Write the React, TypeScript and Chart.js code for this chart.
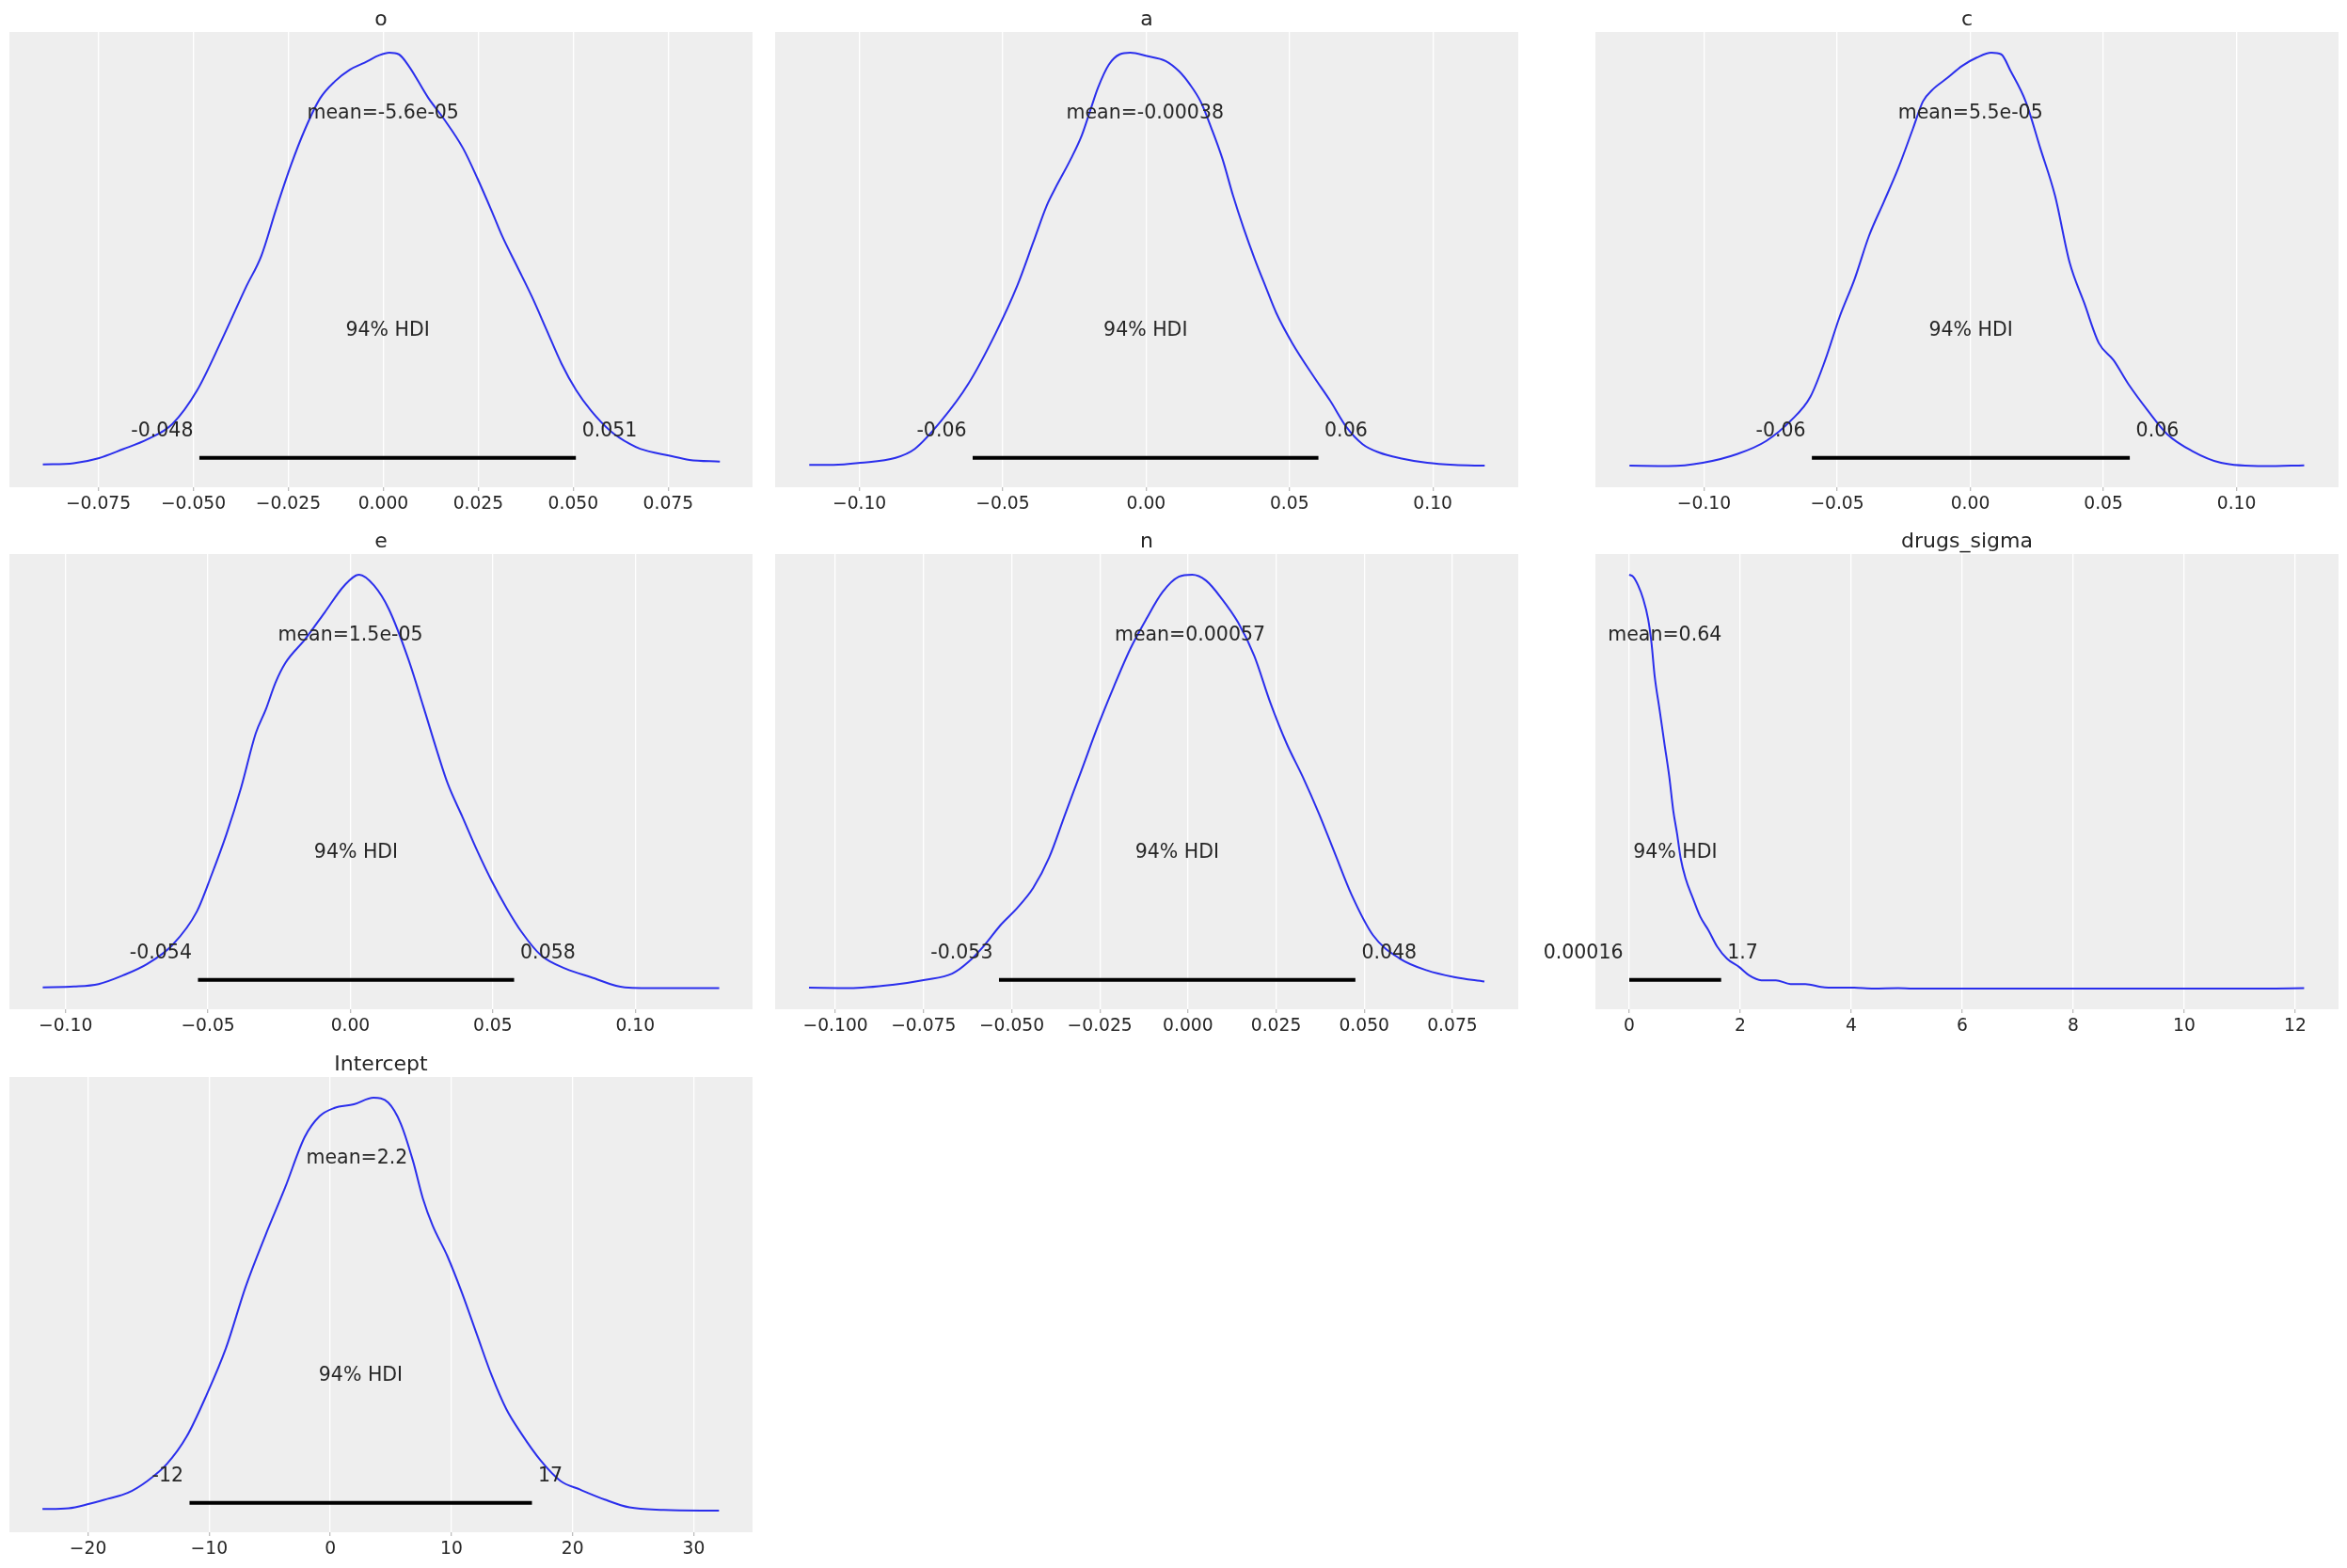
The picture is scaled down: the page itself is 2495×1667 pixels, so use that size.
import React, { useEffect, useRef } from "react";
import { Chart, registerables } from "chart.js";

Chart.register(...registerables);

// ---------------- data ----------------
const titles = ["o", "a", "c", "e", "n", "drugs_sigma", "Intercept"];

const oX = [-0.0896, -0.0815, -0.075, -0.0685, -0.062, -0.0555, -0.049, -0.0425, -0.036, -0.0321, -0.0282, -0.0243, -0.0205, -0.0166, -0.0127, -0.0088, -0.0049, -0.001, 0.0016, 0.0041, 0.0067, 0.0119, 0.0158, 0.021, 0.0248, 0.0287, 0.0313, 0.0352, 0.0391, 0.043, 0.0469, 0.0508, 0.0547, 0.0598, 0.065, 0.0676, 0.0754, 0.0806, 0.0886];
const oY = [0.005, 0.008, 0.02, 0.042, 0.066, 0.103, 0.184, 0.306, 0.436, 0.509, 0.622, 0.728, 0.817, 0.89, 0.931, 0.959, 0.976, 0.994, 1.0, 0.996, 0.968, 0.89, 0.842, 0.769, 0.696, 0.614, 0.557, 0.484, 0.411, 0.33, 0.249, 0.184, 0.135, 0.086, 0.054, 0.043, 0.026, 0.016, 0.012];

const aX = [-0.1175, -0.109, -0.0996, -0.0874, -0.0808, -0.0714, -0.062, -0.0525, -0.045, -0.0394, -0.0347, -0.0318, -0.0262, -0.0224, -0.0196, -0.0168, -0.013, -0.0092, -0.0055, 0.0002, 0.0068, 0.0115, 0.0153, 0.019, 0.0228, 0.0266, 0.0303, 0.0341, 0.0379, 0.0416, 0.0454, 0.051, 0.0586, 0.0642, 0.0699, 0.0755, 0.0812, 0.0887, 0.0981, 0.1075, 0.1181];
const aY = [0.004, 0.004, 0.009, 0.021, 0.042, 0.111, 0.2, 0.322, 0.436, 0.541, 0.63, 0.671, 0.744, 0.801, 0.858, 0.915, 0.971, 0.996, 1.0, 0.992, 0.98, 0.955, 0.923, 0.882, 0.817, 0.744, 0.655, 0.574, 0.501, 0.436, 0.371, 0.298, 0.216, 0.159, 0.095, 0.054, 0.034, 0.02, 0.009, 0.004, 0.002];

const cX = [-0.128, -0.1133, -0.1005, -0.0876, -0.0766, -0.0674, -0.0601, -0.0545, -0.049, -0.0435, -0.038, -0.0325, -0.0271, -0.0215, -0.0178, -0.0141, -0.0086, -0.0031, 0.0024, 0.0079, 0.0116, 0.0152, 0.0208, 0.0263, 0.0318, 0.0373, 0.0428, 0.0483, 0.0538, 0.0593, 0.0667, 0.074, 0.0832, 0.0942, 0.1107, 0.1254];
const cY = [0.002, 0.001, 0.009, 0.03, 0.062, 0.111, 0.168, 0.257, 0.363, 0.452, 0.558, 0.639, 0.72, 0.817, 0.882, 0.911, 0.939, 0.968, 0.988, 1.0, 0.996, 0.955, 0.882, 0.769, 0.655, 0.493, 0.395, 0.298, 0.257, 0.2, 0.135, 0.078, 0.038, 0.009, 0.001, 0.003];

const eX = [-0.108, -0.097, -0.0884, -0.0798, -0.0712, -0.0625, -0.0539, -0.0487, -0.0435, -0.0383, -0.0332, -0.0297, -0.0263, -0.0228, -0.0159, -0.009, -0.0021, 0.0031, 0.0083, 0.0135, 0.0204, 0.0256, 0.0307, 0.0342, 0.0394, 0.0446, 0.0497, 0.0549, 0.0601, 0.067, 0.0756, 0.0843, 0.0964, 0.1102, 0.1295];
const eY = [0.003, 0.005, 0.011, 0.032, 0.06, 0.105, 0.186, 0.275, 0.373, 0.487, 0.617, 0.674, 0.739, 0.787, 0.844, 0.909, 0.974, 1.0, 0.974, 0.917, 0.795, 0.682, 0.568, 0.495, 0.414, 0.332, 0.259, 0.194, 0.137, 0.08, 0.048, 0.028, 0.003, 0.001, 0.001];

const nX = [-0.1075, -0.096, -0.0838, -0.0746, -0.0669, -0.0623, -0.0577, -0.0531, -0.0485, -0.0439, -0.0394, -0.0348, -0.0302, -0.0256, -0.021, -0.0164, -0.0118, -0.0072, -0.0026, 0.0012, 0.0051, 0.0096, 0.0142, 0.0188, 0.0234, 0.028, 0.0326, 0.0372, 0.0418, 0.0464, 0.0525, 0.0602, 0.0678, 0.0755, 0.0841];
const nY = [0.002, 0.001, 0.009, 0.021, 0.036, 0.064, 0.105, 0.154, 0.194, 0.243, 0.316, 0.422, 0.527, 0.633, 0.73, 0.82, 0.893, 0.958, 0.995, 1.0, 0.986, 0.942, 0.885, 0.804, 0.69, 0.592, 0.511, 0.422, 0.324, 0.227, 0.129, 0.072, 0.044, 0.028, 0.017];

const sX = [0.0002, 0.07, 0.16, 0.25, 0.34, 0.4, 0.458, 0.546, 0.634, 0.722, 0.793, 0.863, 0.925, 1.013, 1.145, 1.278, 1.427, 1.586, 1.762, 1.982, 2.159, 2.379, 2.643, 2.907, 3.172, 3.524, 4.053, 4.405, 4.846, 5.11, 6.17, 7.93, 9.69, 11.45, 12.16];
const sY = [1.0, 0.995, 0.974, 0.942, 0.893, 0.836, 0.755, 0.674, 0.592, 0.511, 0.43, 0.373, 0.316, 0.267, 0.219, 0.174, 0.141, 0.101, 0.072, 0.052, 0.032, 0.02, 0.02, 0.011, 0.011, 0.003, 0.002, 0.0, 0.001, 0.0, 0.0, 0.0, 0.0, 0.0, 0.001];

const iX = [-23.76, -21.6, -19.98, -18.36, -16.73, -15.1, -13.49, -11.86, -10.24, -8.61, -6.99, -5.36, -3.74, -2.11, -0.89, 0.32, 1.95, 3.57, 4.79, 5.81, 6.82, 7.64, 8.45, 9.67, 10.89, 12.1, 13.32, 14.54, 15.76, 17.38, 19.01, 20.63, 22.66, 24.7, 27.54, 32.09];
const iY = [0.006, 0.008, 0.018, 0.031, 0.045, 0.074, 0.115, 0.181, 0.28, 0.395, 0.543, 0.667, 0.782, 0.905, 0.955, 0.975, 0.984, 1.0, 0.988, 0.938, 0.848, 0.757, 0.691, 0.617, 0.527, 0.428, 0.329, 0.247, 0.189, 0.123, 0.074, 0.053, 0.029, 0.01, 0.004, 0.002];

const xsAll = [oX, aX, cX, eX, nX, sX, iX];
const ysAll = [oY, aY, cY, eY, nY, sY, iY];

const xMins = [-0.0984, -0.1294, -0.1408, -0.1197, -0.1171, -0.61, -26.49];
const xMaxs = [0.0972, 0.1298, 0.1383, 0.1412, 0.0937, 12.78, 34.86];

const ticks3 = [-0.075, -0.05, -0.025, 0, 0.025, 0.05, 0.075];
const ticks3Labels = ["\u22120.075", "\u22120.050", "\u22120.025", "0.000", "0.025", "0.050", "0.075"];
const ticks2 = [-0.1, -0.05, 0, 0.05, 0.1];
const ticks2Labels = ["\u22120.10", "\u22120.05", "0.00", "0.05", "0.10"];
const ticksN = [-0.1, -0.075, -0.05, -0.025, 0, 0.025, 0.05, 0.075];
const ticksNLabels = ["\u22120.100", "\u22120.075", "\u22120.050", "\u22120.025", "0.000", "0.025", "0.050", "0.075"];
const ticksS = [0, 2, 4, 6, 8, 10, 12];
const ticksSLabels = ["0", "2", "4", "6", "8", "10", "12"];
const ticksI = [-20, -10, 0, 10, 20, 30];
const ticksILabels = ["\u221220", "\u221210", "0", "10", "20", "30"];

const tickValuesAll = [ticks3, ticks2, ticks2, ticks2, ticksN, ticksS, ticksI];
const tickLabelsAll = [ticks3Labels, ticks2Labels, ticks2Labels, ticks2Labels, ticksNLabels, ticksSLabels, ticksILabels];

const hdiLow = [-0.0484, -0.0605, -0.0595, -0.0535, -0.0536, 0.00016, -11.62];
const hdiHigh = [0.0507, 0.0601, 0.0599, 0.0575, 0.0475, 1.656, 16.65];
const hdiLowLabels = ["-0.048", "-0.06", "-0.06", "-0.054", "-0.053", "0.00016", "-12"];
const hdiHighLabels = ["0.051", "0.06", "0.06", "0.058", "0.048", "1.7", "17"];
const means = [-0.000056, -0.00038, 0.000055, 0.000015, 0.00057, 0.64, 2.2];
const meanLabels = ["mean=-5.6e-05", "mean=-0.00038", "mean=5.5e-05", "mean=1.5e-05", "mean=0.00057", "mean=0.64", "mean=2.2"];

// ---------------- layout ----------------
const COL_LEFT = [10, 824, 1696];
const ROW_TOP = [34, 589, 1145];
const PANEL_W = 790;
const PANEL_H = 484;
const PAD_L = 70;
const PAD_R = 10;
const PAD_T = 40;
const PAD_B = 45;
const FONT = '"DejaVu Sans", "Liberation Sans", sans-serif';
const TEXT = "#262626";

function Panel({ idx }: { idx: number }) {
  const ref = useRef<HTMLCanvasElement | null>(null);
  const col = idx % 3;
  const row = Math.floor(idx / 3);
  const left = COL_LEFT[col] - PAD_L;
  const top = ROW_TOP[row] - PAD_T;
  const W = PANEL_W + PAD_L + PAD_R;
  const H = PANEL_H + PAD_T + PAD_B;

  useEffect(() => {
    if (!ref.current) return;
    const xs = xsAll[idx];
    const ys = ysAll[idx];
    const lo = hdiLow[idx];
    const hi = hdiHigh[idx];
    const tickVals = tickValuesAll[idx];
    const tickLabs = tickLabelsAll[idx];

    const plugin = {
      id: "panelDecor" + idx,
      beforeDraw(chart: any) {
        const { ctx, chartArea } = chart;
        ctx.save();
        ctx.fillStyle = "#eeeeee";
        ctx.fillRect(chartArea.left, chartArea.top, chartArea.right - chartArea.left, chartArea.bottom - chartArea.top);
        ctx.restore();
      },
      afterDatasetsDraw(chart: any) {
        const { ctx, chartArea, scales } = chart;
        const x = scales.x;
        const y = scales.y;
        ctx.save();
        ctx.fillStyle = TEXT;
        ctx.textBaseline = "alphabetic";
        ctx.font = `20.5px ${FONT}`;
        ctx.textAlign = "center";
        ctx.fillText(meanLabels[idx], x.getPixelForValue(means[idx]), y.getPixelForValue(0.84));
        ctx.fillText("94% HDI", x.getPixelForValue((lo + hi) / 2), y.getPixelForValue(0.315));
        ctx.textAlign = "right";
        ctx.fillText(hdiLowLabels[idx] + " ", x.getPixelForValue(lo), y.getPixelForValue(0.0735));
        ctx.textAlign = "left";
        ctx.fillText(" " + hdiHighLabels[idx], x.getPixelForValue(hi), y.getPixelForValue(0.0735));
        ctx.font = `22px ${FONT}`;
        ctx.textAlign = "center";
        ctx.fillText(titles[idx], (chartArea.left + chartArea.right) / 2, chartArea.top - 7.5);
        ctx.restore();
      },
    };

    const chart = new Chart(ref.current, {
      type: "line",
      data: {
        datasets: [
          {
            data: xs.map((v, i) => ({ x: v, y: ys[i] })),
            borderColor: "#2a2eec",
            borderWidth: 2,
            pointRadius: 0,
            cubicInterpolationMode: "monotone",
            fill: false,
            order: 1,
          },
          {
            data: [
              { x: lo, y: 0.021 },
              { x: hi, y: 0.021 },
            ],
            borderColor: "#000000",
            borderWidth: 4,
            borderCapStyle: "butt",
            pointRadius: 0,
            fill: false,
            order: 2,
          },
        ],
      },
      options: {
        responsive: false,
        maintainAspectRatio: false,
        animation: false,
        devicePixelRatio: 1,
        layout: { padding: { left: PAD_L, right: PAD_R, top: PAD_T, bottom: 0 } },
        plugins: { legend: { display: false }, tooltip: { enabled: false }, title: { display: false } },
        scales: {
          x: {
            type: "linear",
            min: xMins[idx],
            max: xMaxs[idx],
            afterBuildTicks: (s: any) => {
              s.ticks = tickVals.map((v) => ({ value: v }));
            },
            afterFit: (s: any) => {
              s.height = PAD_B;
            },
            border: { display: false },
            grid: {
              color: "#ffffff",
              lineWidth: 1.3,
              drawTicks: true,
              tickLength: 4,
              tickColor: "#bdbdbd",
              tickWidth: 1.3,
            },
            ticks: {
              padding: 3,
              color: TEXT,
              maxRotation: 0,
              autoSkip: false,
              font: { family: FONT, size: 18.7 },
              callback: (_v: any, i: number) => tickLabs[i],
            },
          },
          y: { display: false, min: -0.05, max: 1.05 },
        },
      },
      plugins: [plugin],
    } as any);
    return () => chart.destroy();
  }, [idx]);

  return (
    <canvas
      ref={ref}
      width={W}
      height={H}
      style={{ position: "absolute", left, top, width: W, height: H }}
    />
  );
}

export default function App() {
  return (
    <div
      style={{
        position: "fixed",
        left: 0,
        top: 0,
        width: 2495,
        height: 1667,
        overflow: "hidden",
        background: "#ffffff",
      }}
    >
      {titles.map((_, i) => (
        <Panel key={i} idx={i} />
      ))}
    </div>
  );
}
